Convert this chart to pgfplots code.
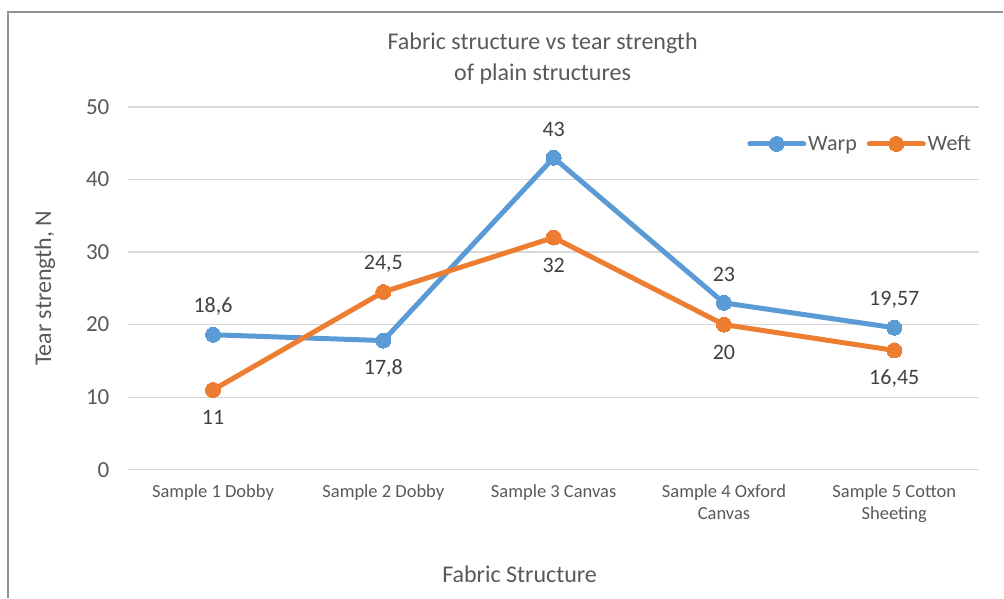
\documentclass[border=0pt]{standalone}
\usepackage{fontspec}
\setmainfont{Carlito}
\usepackage{pgfplots}
\pgfplotsset{compat=1.18}
\usepackage{pgfplotstable}
\definecolor{warp}{HTML}{5B9BD5}
\definecolor{weft}{HTML}{ED7D31}
\definecolor{gridgray}{HTML}{D9D9D9}
\definecolor{txtgray}{HTML}{595959}
\definecolor{lblgray}{HTML}{404040}

% x  value  label  position (1 above, -1 below)
\pgfplotstableread{
x y lab pos
0 18.6 18,6 1
1 17.8 17,8 -1
2 43 43 1
3 23 23 1
4 19.57 19,57 1
}\warpdata
\pgfplotstableread{
x y lab pos
0 11 11 -1
1 24.5 24,5 1
2 32 32 -1
3 20 20 -1
4 16.45 16,45 -1
}\weftdata

\begin{document}
\begin{tikzpicture}
\begin{axis}[
    scale only axis,
    width=852pt, height=363pt,
    xmin=-0.5, xmax=4.5,
    ymin=0, ymax=50,
    ytick={0,10,...,50},
    xtick={0,1,2,3,4},
    xticklabels={Sample 1 Dobby, Sample 2 Dobby, Sample 3 Canvas, {Sample 4 Oxford\\Canvas}, {Sample 5 Cotton\\Sheeting}},
    axis line style={draw=none},
    ymajorgrids,
    grid style={gridgray, line width=1.3pt},
    major tick length=0pt,
    /pgf/number format/assume math mode=true,
    yticklabel style={font=\fontsize{23}{27}\selectfont, text=txtgray, anchor=east, xshift=-15pt},
    xticklabel style={font=\fontsize{18.5}{22}\selectfont, text=txtgray, align=center, anchor=north, yshift=-11pt},
    title={Fabric structure vs tear strength\\of plain structures},
    title style={font=\fontsize{24}{31}\selectfont, text=txtgray, align=center, at={(axis description cs:0.487,1.118)}, anchor=center},
    xlabel={Fabric Structure},
    xlabel style={font=\fontsize{24}{28}\selectfont, text=txtgray, at={(axis description cs:0.46,-0.289)}, anchor=center},
    ylabel={Tear strength, N},
    ylabel style={font=\fontsize{24}{28}\selectfont, text=txtgray, at={(axis description cs:-0.0974,0.5)}, anchor=center},
    legend columns=2,
    legend style={draw=none, fill=none, at={(axis description cs:0.996,0.898)}, anchor=east,
        font=\fontsize{22}{26}\selectfont, text=txtgray,
        /tikz/every even column/.append style={column sep=8pt}},
    legend image code/.code={
        \draw[#1, mark repeat=2, mark phase=2, line cap=round] plot coordinates {(0pt,0pt) (27pt,0pt) (54pt,0pt)};
    },
    point meta=explicit symbolic,
    nodes near coords,
    visualization depends on={\thisrow{pos}\as\lpos},
    nodes near coords style={font=\fontsize{22}{26}\selectfont, text=lblgray, anchor=center, yshift={\lpos*28pt}},
    clip=false,
]
\addplot[warp, line width=5pt, mark=*, mark size=7.5pt, mark options={fill=warp, line width=0pt}]
    table[x=x, y=y, meta=lab] {\warpdata};
\addlegendentry{Warp}
\addplot[weft, line width=5pt, mark=*, mark size=7.5pt, mark options={fill=weft, line width=0pt}]
    table[x=x, y=y, meta=lab] {\weftdata};
\addlegendentry{Weft}
% chart frame (left and top edges) and page extent
\draw[gray!85, line width=1.2pt]
    (rel axis cs:-0.1408,-0.3526) -- (rel axis cs:-0.1408,1.2617) -- (rel axis cs:1.0282,1.2617);
\path (rel axis cs:-0.1502,-0.3526) rectangle (rel axis cs:1.0282,1.2948);
\end{axis}
\end{tikzpicture}
\end{document}
